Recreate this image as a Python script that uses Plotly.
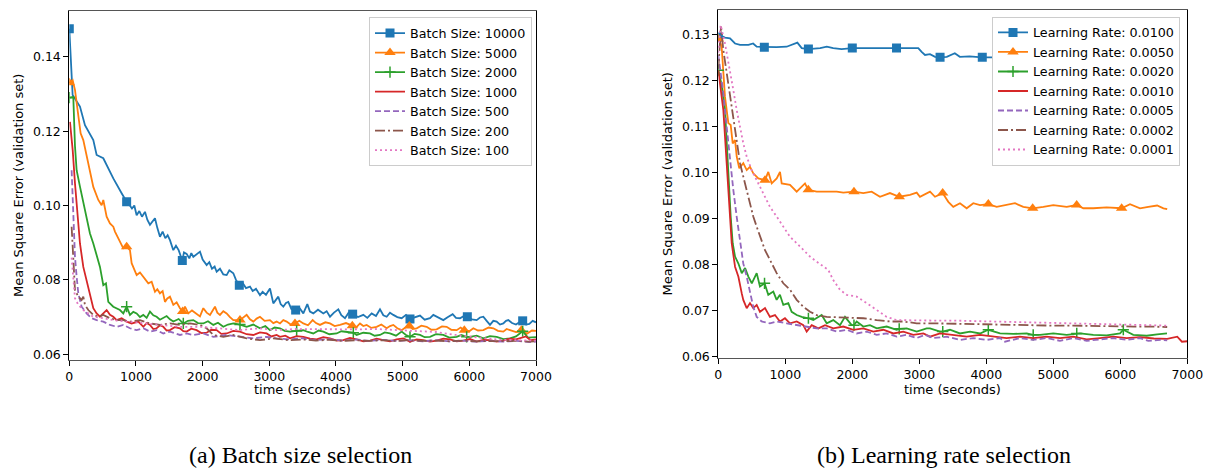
import plotly.graph_objects as go

W, H = 1207, 468

# ---------------- data: (a) batch size selection ----------------
bs_labels = ["Batch Size: 10000", "Batch Size: 5000", "Batch Size: 2000", "Batch Size: 1000",
             "Batch Size: 500", "Batch Size: 200", "Batch Size: 100"]

bs10000 = [(0, 0.1475), (50, 0.1297), (160, 0.1266), (235, 0.1216), (360, 0.1176), (410, 0.1136),
           (510, 0.1127), (610, 0.1090), (660, 0.1073), (785, 0.1033), (860, 0.1010), (900, 0.1002),
           (940, 0.0992), (975, 0.1000), (1010, 0.0974), (1050, 0.0985), (1090, 0.0970), (1135, 0.0983),
           (1170, 0.0962), (1210, 0.0948), (1250, 0.0958), (1285, 0.0966), (1320, 0.0940), (1360, 0.0916),
           (1400, 0.0930), (1440, 0.0912), (1475, 0.0920), (1510, 0.0907), (1560, 0.0880), (1600, 0.0892),
           (1640, 0.0880), (1695, 0.0852), (1720, 0.0874), (1760, 0.0870), (1800, 0.0858), (1830, 0.0872),
           (1860, 0.0862), (1900, 0.0868), (1960, 0.0876), (2000, 0.0855), (2060, 0.0840), (2100, 0.0848),
           (2140, 0.0830), (2180, 0.0836), (2210, 0.0822), (2260, 0.0830), (2310, 0.0815), (2360, 0.0813),
           (2400, 0.0826), (2460, 0.0818), (2500, 0.0800), (2550, 0.0786), (2600, 0.0792), (2650, 0.0778),
           (2710, 0.0782), (2750, 0.0770), (2800, 0.0776), (2860, 0.0759), (2900, 0.0768), (2950, 0.0760),
           (3010, 0.0777), (3060, 0.0737), (3100, 0.0748), (3135, 0.0755), (3170, 0.0735), (3210, 0.0728),
           (3250, 0.0738), (3285, 0.0741), (3330, 0.0722), (3395, 0.0719), (3450, 0.0725), (3510, 0.0710),
           (3570, 0.0735), (3610, 0.0715), (3660, 0.0710), (3730, 0.0720), (3810, 0.0710), (3860, 0.0716),
           (3910, 0.0701), (3970, 0.0712), (4035, 0.0721), (4080, 0.0705), (4135, 0.0697), (4190, 0.0712),
           (4250, 0.0708), (4330, 0.0700), (4410, 0.0706), (4470, 0.0698), (4535, 0.0710), (4600, 0.0703),
           (4660, 0.0721), (4710, 0.0705), (4760, 0.0701), (4810, 0.0712), (4860, 0.0706), (4920, 0.0700),
           (4985, 0.0697), (5050, 0.0706), (5110, 0.0695), (5180, 0.0700), (5260, 0.0704), (5330, 0.0693),
           (5410, 0.0697), (5460, 0.0706), (5510, 0.0701), (5560, 0.0695), (5610, 0.0692), (5680, 0.0700),
           (5750, 0.0708), (5800, 0.0698), (5860, 0.0697), (5920, 0.0703), (5970, 0.0701), (6040, 0.0694),
           (6110, 0.0692), (6160, 0.0699), (6210, 0.0701), (6260, 0.0690), (6310, 0.0679), (6360, 0.0690),
           (6410, 0.0688), (6460, 0.0680), (6510, 0.0683), (6550, 0.0690), (6585, 0.0692), (6640, 0.0684),
           (6700, 0.0680), (6750, 0.0686), (6800, 0.0690), (6850, 0.0680), (6900, 0.0682), (6950, 0.0690),
           (7000, 0.0686)]
bs10000_marks = [(0, 0.1475), (860, 0.1010), (1695, 0.0852), (2550, 0.0786), (3395, 0.0719),
                 (4250, 0.0708), (5110, 0.0695), (5970, 0.0701), (6800, 0.0690)]

bs5000 = [(0, 0.1330), (50, 0.1337), (85, 0.1311), (135, 0.1243), (170, 0.1194), (210, 0.1176),
          (260, 0.1136), (310, 0.1087), (360, 0.1050), (435, 0.1015), (485, 0.1001), (510, 0.1015),
          (560, 0.0970), (610, 0.0952), (660, 0.0943), (685, 0.0930), (760, 0.0903), (810, 0.0885),
          (860, 0.0889), (910, 0.0880), (935, 0.0845), (970, 0.0830), (1010, 0.0813), (1060, 0.0820),
          (1110, 0.0809), (1150, 0.0798), (1185, 0.0791), (1235, 0.0795), (1285, 0.0768), (1320, 0.0775),
          (1360, 0.0764), (1400, 0.0770), (1435, 0.0741), (1470, 0.0750), (1510, 0.0755), (1560, 0.0733),
          (1610, 0.0740), (1660, 0.0724), (1700, 0.0715), (1735, 0.0728), (1785, 0.0710), (1840, 0.0718),
          (1910, 0.0710), (1960, 0.0702), (2010, 0.0724), (2060, 0.0712), (2110, 0.0706), (2185, 0.0728),
          (2220, 0.0712), (2260, 0.0706), (2310, 0.0716), (2360, 0.0710), (2410, 0.0700), (2460, 0.0692),
          (2560, 0.0692), (2610, 0.0700), (2660, 0.0706), (2710, 0.0694), (2760, 0.0688), (2810, 0.0696),
          (2860, 0.0701), (2930, 0.0690), (3010, 0.0692), (3060, 0.0684), (3110, 0.0688), (3160, 0.0683),
          (3210, 0.0692), (3260, 0.0688), (3320, 0.0680), (3385, 0.0683), (3450, 0.0690), (3510, 0.0683),
          (3580, 0.0678), (3650, 0.0692), (3700, 0.0684), (3760, 0.0679), (3840, 0.0686), (3910, 0.0683),
          (3980, 0.0676), (4060, 0.0679), (4150, 0.0684), (4245, 0.0677), (4300, 0.0672), (4360, 0.0683),
          (4410, 0.0676), (4460, 0.0679), (4530, 0.0671), (4610, 0.0674), (4680, 0.0680), (4760, 0.0670),
          (4810, 0.0676), (4860, 0.0679), (4920, 0.0670), (4985, 0.0665), (5040, 0.0672), (5100, 0.0676),
          (5150, 0.0668), (5210, 0.0670), (5280, 0.0677), (5360, 0.0674), (5430, 0.0666), (5510, 0.0667),
          (5590, 0.0675), (5660, 0.0674), (5730, 0.0666), (5810, 0.0665), (5870, 0.0672), (5925, 0.0665),
          (6000, 0.0662), (6060, 0.0670), (6130, 0.0664), (6210, 0.0665), (6290, 0.0672), (6360, 0.0670),
          (6430, 0.0663), (6510, 0.0661), (6560, 0.0668), (6610, 0.0665), (6700, 0.0660), (6780, 0.0665),
          (6860, 0.0655), (6940, 0.0664), (7000, 0.0663)]
bs5000_marks = [(0, 0.1330), (860, 0.0889), (1700, 0.0715), (2560, 0.0692), (3385, 0.0683),
                (4245, 0.0677), (5100, 0.0676), (5925, 0.0665), (6780, 0.0665)]

bs2000 = [(0, 0.1290), (60, 0.1292), (85, 0.1160), (110, 0.1095), (160, 0.1051), (210, 0.1010),
          (260, 0.0961), (310, 0.0925), (360, 0.0898), (410, 0.0867), (460, 0.0835), (510, 0.0786),
          (550, 0.0791), (585, 0.0741), (660, 0.0728), (760, 0.0719), (810, 0.0710), (860, 0.0728),
          (910, 0.0706), (960, 0.0714), (1010, 0.0710), (1060, 0.0700), (1110, 0.0706), (1160, 0.0698),
          (1210, 0.0715), (1260, 0.0705), (1310, 0.0701), (1360, 0.0693), (1410, 0.0697), (1460, 0.0703),
          (1510, 0.0694), (1560, 0.0688), (1640, 0.0695), (1710, 0.0683), (1780, 0.0690), (1860, 0.0692),
          (1930, 0.0684), (2010, 0.0683), (2080, 0.0689), (2160, 0.0679), (2230, 0.0685), (2310, 0.0674),
          (2380, 0.0680), (2460, 0.0683), (2560, 0.0680), (2660, 0.0674), (2760, 0.0680), (2860, 0.0670),
          (2940, 0.0676), (3010, 0.0665), (3080, 0.0672), (3160, 0.0670), (3230, 0.0663), (3310, 0.0661),
          (3410, 0.0663), (3510, 0.0665), (3580, 0.0660), (3660, 0.0656), (3740, 0.0664), (3810, 0.0661),
          (3900, 0.0654), (4010, 0.0656), (4080, 0.0662), (4160, 0.0661), (4260, 0.0658), (4310, 0.0652),
          (4410, 0.0658), (4510, 0.0656), (4580, 0.0650), (4660, 0.0652), (4730, 0.0659), (4810, 0.0656),
          (4900, 0.0650), (4985, 0.0661), (5050, 0.0652), (5110, 0.0647), (5180, 0.0655), (5260, 0.0652),
          (5330, 0.0646), (5410, 0.0647), (5500, 0.0654), (5610, 0.0652), (5700, 0.0645), (5810, 0.0647),
          (5880, 0.0652), (5960, 0.0647), (6010, 0.0647), (6110, 0.0650), (6210, 0.0643), (6310, 0.0649),
          (6410, 0.0647), (6510, 0.0641), (6610, 0.0643), (6700, 0.0648), (6800, 0.0662), (6880, 0.0645),
          (7000, 0.0646)]
bs2000_marks = [(0, 0.1290), (860, 0.0728), (1710, 0.0683), (2560, 0.0680), (3410, 0.0663),
                (4260, 0.0658), (5110, 0.0647), (5960, 0.0647), (6800, 0.0662)]

bs1000 = [(10, 0.1225), (51, 0.1149), (85, 0.1060), (110, 0.0997), (135, 0.0956), (160, 0.0898),
          (210, 0.0835), (260, 0.0795), (310, 0.0755), (360, 0.0724), (410, 0.0710), (460, 0.0701),
          (510, 0.0710), (560, 0.0719), (610, 0.0706), (660, 0.0701), (710, 0.0692), (785, 0.0697),
          (860, 0.0688), (935, 0.0683), (1035, 0.0688), (1110, 0.0674), (1160, 0.0684), (1210, 0.0679),
          (1260, 0.0668), (1310, 0.0670), (1360, 0.0678), (1410, 0.0674), (1460, 0.0664), (1510, 0.0665),
          (1580, 0.0673), (1660, 0.0670), (1710, 0.0662), (1760, 0.0661), (1830, 0.0669), (1910, 0.0665),
          (1980, 0.0657), (2060, 0.0658), (2130, 0.0666), (2210, 0.0665), (2280, 0.0655), (2360, 0.0656),
          (2460, 0.0663), (2560, 0.0661), (2660, 0.0654), (2760, 0.0652), (2860, 0.0659), (2960, 0.0656),
          (3030, 0.0648), (3110, 0.0652), (3160, 0.0647), (3240, 0.0650), (3310, 0.0643), (3410, 0.0649),
          (3510, 0.0647), (3610, 0.0642), (3710, 0.0640), (3810, 0.0646), (3910, 0.0643), (4010, 0.0637),
          (4110, 0.0638), (4210, 0.0644), (4310, 0.0640), (4410, 0.0635), (4510, 0.0637), (4610, 0.0642),
          (4710, 0.0638), (4810, 0.0635), (4910, 0.0640), (5010, 0.0643), (5110, 0.0634), (5210, 0.0640),
          (5310, 0.0638), (5410, 0.0634), (5510, 0.0637), (5610, 0.0642), (5710, 0.0640), (5810, 0.0635),
          (5910, 0.0637), (6010, 0.0641), (6110, 0.0634), (6210, 0.0639), (6310, 0.0638), (6410, 0.0634),
          (6510, 0.0637), (6600, 0.0642), (6700, 0.0640), (6850, 0.0648), (6920, 0.0638), (7000, 0.0640)]

bs500 = [(35, 0.1095), (51, 0.1015), (70, 0.0925), (85, 0.0862), (110, 0.0809), (135, 0.0764),
         (185, 0.0728), (260, 0.0710), (335, 0.0697), (410, 0.0692), (510, 0.0688), (610, 0.0679),
         (710, 0.0674), (810, 0.0679), (910, 0.0670), (1010, 0.0665), (1110, 0.0670), (1210, 0.0661),
         (1310, 0.0665), (1410, 0.0656), (1510, 0.0661), (1660, 0.0652), (1760, 0.0656), (1860, 0.0652),
         (2010, 0.0656), (2160, 0.0647), (2360, 0.0652), (2560, 0.0647), (2760, 0.0643), (2960, 0.0647),
         (3110, 0.0643), (3300, 0.0640), (3500, 0.0643), (3700, 0.0638), (3900, 0.0641), (4100, 0.0637),
         (4300, 0.0640), (4500, 0.0636), (4700, 0.0639), (4900, 0.0636), (5100, 0.0638), (5300, 0.0635),
         (5500, 0.0638), (5700, 0.0635), (5900, 0.0637), (6100, 0.0634), (6300, 0.0636), (6500, 0.0634),
         (6700, 0.0636), (6900, 0.0633), (7000, 0.0634)]

bs200 = [(35, 0.0943), (51, 0.0889), (70, 0.0818), (85, 0.0773), (135, 0.0755), (185, 0.0746),
         (210, 0.0755), (235, 0.0733), (285, 0.0719), (360, 0.0706), (435, 0.0701), (510, 0.0706),
         (610, 0.0697), (710, 0.0692), (810, 0.0692), (910, 0.0688), (1060, 0.0692), (1210, 0.0683),
         (1360, 0.0679), (1510, 0.0683), (1660, 0.0679), (1810, 0.0683), (1960, 0.0679), (2060, 0.0670),
         (2160, 0.0652), (2310, 0.0647), (2460, 0.0652), (2660, 0.0643), (2860, 0.0638), (3060, 0.0643),
         (3300, 0.0638), (3500, 0.0640), (3700, 0.0637), (3900, 0.0639), (4100, 0.0636), (4300, 0.0638),
         (4500, 0.0636), (4700, 0.0638), (4900, 0.0636), (5100, 0.0638), (5300, 0.0636), (5500, 0.0637),
         (5700, 0.0635), (5900, 0.0637), (6100, 0.0635), (6300, 0.0636), (6500, 0.0635), (6700, 0.0636),
         (6900, 0.0634), (7000, 0.0635)]

bs100 = [(35, 0.0860), (60, 0.0791), (85, 0.0751), (135, 0.0733), (210, 0.0719), (285, 0.0710),
         (360, 0.0701), (510, 0.0697), (660, 0.0692), (860, 0.0688), (1110, 0.0683), (1360, 0.0679),
         (1660, 0.0674), (1960, 0.0674), (2260, 0.0670), (2560, 0.0665), (2860, 0.0670), (3110, 0.0665),
         (3400, 0.0668), (3700, 0.0667), (4000, 0.0668), (4300, 0.0667), (4600, 0.0668), (4900, 0.0666),
         (5200, 0.0664), (5500, 0.0660), (5800, 0.0652), (6100, 0.0645), (6400, 0.0640), (6700, 0.0638),
         (7000, 0.0637)]

# ---------------- data: (b) learning rate selection ----------------
lr_labels = ["Learning Rate: 0.0100", "Learning Rate: 0.0050", "Learning Rate: 0.0020",
             "Learning Rate: 0.0010", "Learning Rate: 0.0005", "Learning Rate: 0.0002",
             "Learning Rate: 0.0001"]

lr0100 = [(0, 0.1294), (25, 0.1298), (100, 0.1293), (175, 0.1291), (250, 0.1280), (325, 0.1277),
          (450, 0.1277), (520, 0.1280), (573, 0.1273), (687, 0.1272), (870, 0.1272), (1020, 0.1273),
          (1180, 0.1282), (1245, 0.1270), (1345, 0.1268), (1520, 0.1270), (1620, 0.1273), (1715, 0.1270),
          (1840, 0.1268), (2000, 0.1270), (2265, 0.1270), (2460, 0.1270), (2660, 0.1270), (2860, 0.1271),
          (2985, 0.1270), (3035, 0.1262), (3085, 0.1255), (3160, 0.1257), (3235, 0.1251), (3310, 0.1250),
          (3410, 0.1251), (3530, 0.1259), (3605, 0.1251), (3750, 0.1252), (3940, 0.1250), (4200, 0.1250),
          (4600, 0.1249), (5000, 0.1249), (5300, 0.1248), (5950, 0.1248), (6600, 0.1247), (6700, 0.1247)]
lr0100_marks = [(0, 0.1294), (687, 0.1272), (1345, 0.1268), (2000, 0.1270), (2660, 0.1270),
                (3310, 0.1250), (3940, 0.1250), (4600, 0.1249), (5300, 0.1248), (5950, 0.1248),
                (6600, 0.1247)]

lr0050 = [(0, 0.1290), (25, 0.1284), (50, 0.1273), (75, 0.1208), (100, 0.1164), (150, 0.1107),
          (185, 0.1103), (215, 0.1063), (250, 0.1070), (275, 0.1034), (313, 0.1009), (373, 0.1020),
          (424, 0.1005), (473, 0.1012), (522, 0.0998), (597, 0.0987), (697, 0.0983), (746, 0.1001),
          (797, 0.0976), (872, 0.0987), (921, 0.1001), (946, 0.0976), (1070, 0.0973), (1170, 0.0958),
          (1294, 0.0976), (1343, 0.0962), (1469, 0.0958), (1618, 0.0958), (1767, 0.0958), (1866, 0.0956),
          (2025, 0.0958), (2164, 0.0955), (2289, 0.0958), (2413, 0.0947), (2562, 0.0955), (2701, 0.0947),
          (2861, 0.0951), (2961, 0.0956), (3010, 0.0947), (3160, 0.0958), (3234, 0.0947), (3349, 0.0955),
          (3433, 0.0936), (3507, 0.0925), (3607, 0.0933), (3707, 0.0922), (3806, 0.0933), (3906, 0.0929),
          (4030, 0.0931), (4155, 0.0925), (4304, 0.0929), (4428, 0.0933), (4552, 0.0925), (4692, 0.0922),
          (4851, 0.0925), (5000, 0.0929), (5200, 0.0925), (5349, 0.0929), (5448, 0.0922), (5597, 0.0922),
          (5796, 0.0924), (6020, 0.0922), (6145, 0.0931), (6294, 0.0922), (6418, 0.0925), (6550, 0.0928),
          (6644, 0.0922), (6700, 0.0920)]
lr0050_marks = [(0, 0.1290), (697, 0.0983), (1343, 0.0962), (2025, 0.0958), (2701, 0.0947),
                (3349, 0.0955), (4030, 0.0931), (4692, 0.0922), (5349, 0.0929), (6020, 0.0922)]

lr0020 = [(0, 0.1222), (50, 0.1190), (100, 0.1136), (150, 0.0991), (185, 0.0904), (215, 0.0846),
          (250, 0.0817), (300, 0.0802), (350, 0.0781), (400, 0.0792), (450, 0.0773), (500, 0.0759),
          (573, 0.0781), (622, 0.0752), (690, 0.0759), (746, 0.0734), (821, 0.0741), (871, 0.0723),
          (920, 0.0734), (970, 0.0712), (1045, 0.0716), (1095, 0.0697), (1170, 0.0690), (1245, 0.0686),
          (1345, 0.0683), (1418, 0.0679), (1543, 0.0690), (1618, 0.0672), (1716, 0.0679), (1816, 0.0668),
          (1891, 0.0686), (1991, 0.0668), (2025, 0.0668), (2065, 0.0676), (2164, 0.0665), (2264, 0.0668),
          (2364, 0.0661), (2513, 0.0665), (2662, 0.0658), (2700, 0.0660), (2812, 0.0661), (2961, 0.0654),
          (3110, 0.0661), (3160, 0.0661), (3309, 0.0654), (3350, 0.0654), (3458, 0.0658), (3607, 0.0650),
          (3757, 0.0654), (3906, 0.0650), (4030, 0.0658), (4205, 0.0650), (4403, 0.0649), (4603, 0.0650),
          (4700, 0.0647), (4801, 0.0647), (5000, 0.0650), (5200, 0.0647), (5350, 0.0650), (5400, 0.0650),
          (5597, 0.0647), (5796, 0.0646), (5996, 0.0650), (6045, 0.0658), (6194, 0.0647), (6394, 0.0645),
          (6550, 0.0648), (6697, 0.0650)]
lr0020_marks = [(0, 0.1222), (690, 0.0759), (1345, 0.0683), (2025, 0.0668), (2700, 0.0660),
                (3350, 0.0654), (4030, 0.0658), (4700, 0.0647), (5350, 0.0650), (6045, 0.0658)]

lr0010 = [(0, 0.1222), (75, 0.1136), (125, 0.1020), (165, 0.0918), (200, 0.0846), (250, 0.0795),
          (300, 0.0773), (350, 0.0737), (373, 0.0723), (424, 0.0705), (473, 0.0716), (522, 0.0705),
          (573, 0.0712), (622, 0.0697), (697, 0.0705), (771, 0.0686), (846, 0.0690), (920, 0.0676),
          (995, 0.0683), (1070, 0.0672), (1170, 0.0676), (1269, 0.0668), (1319, 0.0654), (1394, 0.0668),
          (1493, 0.0661), (1593, 0.0668), (1716, 0.0661), (1866, 0.0665), (2015, 0.0658), (2164, 0.0661),
          (2314, 0.0654), (2463, 0.0658), (2612, 0.0650), (2762, 0.0654), (2910, 0.0647), (3060, 0.0650),
          (3160, 0.0643), (3309, 0.0650), (3507, 0.0647), (3707, 0.0643), (3906, 0.0647), (4105, 0.0643),
          (4304, 0.0640), (4502, 0.0643), (4701, 0.0640), (4900, 0.0643), (5100, 0.0640), (5299, 0.0643),
          (5498, 0.0637), (5697, 0.0640), (5896, 0.0643), (6095, 0.0640), (6294, 0.0642), (6500, 0.0639),
          (6700, 0.0638), (6850, 0.0643), (6920, 0.0632), (7000, 0.0633)]

lr0005 = [(0, 0.1255), (75, 0.1172), (125, 0.1099), (175, 0.1027), (224, 0.0962), (274, 0.0904),
          (324, 0.0846), (373, 0.0802), (424, 0.0773), (473, 0.0737), (522, 0.0708), (573, 0.0686),
          (647, 0.0676), (771, 0.0672), (871, 0.0676), (1020, 0.0672), (1170, 0.0668), (1319, 0.0665),
          (1468, 0.0661), (1618, 0.0661), (1767, 0.0654), (1916, 0.0658), (2065, 0.0650), (2214, 0.0654),
          (2364, 0.0647), (2513, 0.0650), (2662, 0.0643), (2812, 0.0647), (2961, 0.0640), (3085, 0.0647),
          (3209, 0.0640), (3408, 0.0643), (3607, 0.0636), (3806, 0.0640), (4005, 0.0636), (4205, 0.0640),
          (4279, 0.0632), (4502, 0.0640), (4701, 0.0636), (4900, 0.0640), (5100, 0.0634), (5299, 0.0640),
          (5498, 0.0634), (5697, 0.0637), (5896, 0.0640), (6095, 0.0636), (6294, 0.0640), (6418, 0.0634),
          (6600, 0.0636), (6700, 0.0635)]

lr0002 = [(0, 0.1225), (40, 0.1317), (75, 0.1266), (125, 0.1215), (175, 0.1172), (224, 0.1121),
          (274, 0.1063), (324, 0.1020), (373, 0.0991), (424, 0.0962), (473, 0.0933), (522, 0.0904),
          (573, 0.0882), (622, 0.0860), (697, 0.0831), (771, 0.0810), (871, 0.0781), (970, 0.0759),
          (1070, 0.0745), (1170, 0.0723), (1269, 0.0708), (1369, 0.0697), (1468, 0.0690), (1618, 0.0686),
          (1767, 0.0685), (1966, 0.0683), (2165, 0.0683), (2364, 0.0679), (2562, 0.0676), (2761, 0.0676),
          (2961, 0.0672), (3200, 0.0672), (3500, 0.0671), (3800, 0.0670), (4100, 0.0669), (4400, 0.0668),
          (4700, 0.0668), (5000, 0.0667), (5300, 0.0667), (5600, 0.0666), (5900, 0.0666), (6200, 0.0665),
          (6443, 0.0665), (6700, 0.0664)]

lr0001 = [(0, 0.1260), (35, 0.1320), (100, 0.1280), (175, 0.1222), (224, 0.1179), (274, 0.1136),
          (324, 0.1099), (373, 0.1063), (424, 0.1034), (498, 0.1005), (573, 0.0983), (672, 0.0955),
          (771, 0.0925), (871, 0.0904), (970, 0.0882), (1070, 0.0860), (1170, 0.0846), (1269, 0.0831),
          (1369, 0.0817), (1468, 0.0806), (1567, 0.0795), (1642, 0.0788), (1716, 0.0766), (1816, 0.0745),
          (1916, 0.0734), (2065, 0.0730), (2214, 0.0716), (2364, 0.0701), (2513, 0.0686), (2662, 0.0679),
          (2900, 0.0678), (3200, 0.0678), (3500, 0.0678), (3800, 0.0677), (4100, 0.0676), (4400, 0.0675),
          (4700, 0.0674), (5000, 0.0673), (5300, 0.0671), (5600, 0.0670), (5900, 0.0669), (6200, 0.0668),
          (6500, 0.0668), (6700, 0.0667)]

x_ticks = [0, 1000, 2000, 3000, 4000, 5000, 6000, 7000]
left_y_ticks = [0.06, 0.08, 0.10, 0.12, 0.14]
right_y_ticks = [0.06, 0.07, 0.08, 0.09, 0.10, 0.11, 0.12, 0.13]

# ---------------- styles ----------------
colors = ["#1f77b4", "#ff7f0e", "#2ca02c", "#d62728", "#9467bd", "#8c564b", "#e377c2"]
dashes = ["solid", "solid", "solid", "solid", "6px,3px", "10px,3px,2px,3px", "2px,3px"]
symbols = ["square", "triangle-up", "cross-thin", None, None, None, None]
msizes = [9, 10, 8, 0, 0, 0, 0]
LW = 1.8
FONT = "DejaVu Sans"

fig = go.Figure()


def add_panel(series, marks, labels, xa, ya, legend):
    for i, pts in enumerate(series):
        col = colors[i]
        fig.add_trace(go.Scatter(
            x=[p[0] for p in pts], y=[p[1] for p in pts], mode="lines",
            line=dict(color=col, width=LW, dash=dashes[i]),
            xaxis=xa, yaxis=ya, showlegend=False, hoverinfo="skip"))
        mk = marks[i]
        if mk:
            mline = dict(width=1.5, color=col) if symbols[i] == "cross-thin" else dict(width=0)
            fig.add_trace(go.Scatter(
                x=[p[0] for p in mk], y=[p[1] for p in mk], mode="markers",
                marker=dict(symbol=symbols[i], size=msizes[i], color=col, line=mline),
                xaxis=xa, yaxis=ya, showlegend=False, hoverinfo="skip"))
    # legend entries
    for i, lab in enumerate(labels):
        col = colors[i]
        if symbols[i]:
            mline = dict(width=1.5, color=col) if symbols[i] == "cross-thin" else dict(width=0)
            mode = "lines+markers"
            marker = dict(symbol=symbols[i], size=msizes[i], color=col, line=mline)
        else:
            mode = "lines"
            marker = None
        fig.add_trace(go.Scatter(
            x=[None], y=[None], mode=mode, name=lab,
            line=dict(color=col, width=LW, dash=dashes[i]),
            marker=marker, xaxis=xa, yaxis=ya, legend=legend, showlegend=True))


add_panel([bs10000, bs5000, bs2000, bs1000, bs500, bs200, bs100],
          [bs10000_marks, bs5000_marks, bs2000_marks, None, None, None, None],
          bs_labels, "x", "y", "legend")
add_panel([lr0100, lr0050, lr0020, lr0010, lr0005, lr0002, lr0001],
          [lr0100_marks, lr0050_marks, lr0020_marks, None, None, None, None],
          lr_labels, "x2", "y2", "legend2")


def px_x(p):
    return p / W


def px_y(p):
    return 1 - p / H


tickfont = dict(family=FONT, size=12.5, color="black")
common_x = dict(range=[0, 7000], tickvals=x_ticks, ticks="outside", ticklen=5, tickwidth=1,
                tickcolor="black", showline=True, linecolor="#555555", linewidth=1, mirror=True,
                showgrid=False, zeroline=False, tickfont=tickfont, automargin=False)
common_y = dict(ticks="outside", ticklen=5, tickwidth=1, tickcolor="black", showline=True,
                linecolor="black", linewidth=1, mirror=True, showgrid=False, zeroline=False,
                tickfont=tickfont, tickformat=".2f", automargin=False)

legend_style = dict(font=dict(family=FONT, size=12.7, color="black"), bgcolor="white",
                    bordercolor="#cccccc", borderwidth=1, xanchor="right", yanchor="top",
                    tracegroupgap=0)

fig.update_layout(
    template="none",
    width=W, height=H, margin=dict(l=0, r=0, t=0, b=0, pad=0),
    paper_bgcolor="white", plot_bgcolor="white",
    xaxis=dict(domain=[px_x(69.3), px_x(536)], anchor="y", **common_x),
    yaxis=dict(domain=[px_y(360), px_y(11)], anchor="x", range=[0.05847, 0.1523],
               tickvals=left_y_ticks, **common_y),
    xaxis2=dict(domain=[px_x(718.3), px_x(1187.3)], anchor="y2", **common_x),
    yaxis2=dict(domain=[px_y(358.3), px_y(10)], anchor="x2", range=[0.0596, 0.13528],
                tickvals=right_y_ticks, **common_y),
    legend=dict(x=px_x(532), y=px_y(17.3), **legend_style),
    legend2=dict(x=px_x(1180), y=px_y(16.7), **legend_style),
)

ann_font = dict(family=FONT, size=13, color="black")
cap_font = dict(family="Liberation Serif", size=24, color="black")
annotations = [
    dict(text="time (seconds)", x=px_x(302.7), y=px_y(389), font=ann_font),
    dict(text="time (seconds)", x=px_x(952.8), y=px_y(389), font=ann_font),
    dict(text="Mean Square Error (validation set)", x=px_x(18.5), y=px_y(185.5), textangle=-90,
         font=ann_font),
    dict(text="Mean Square Error (validation set)", x=px_x(667), y=px_y(184.5), textangle=-90,
         font=ann_font),
    dict(text="(a) Batch size selection", x=px_x(300), y=px_y(455), font=cap_font),
    dict(text="(b) Learning rate selection", x=px_x(944), y=px_y(455), font=cap_font),
]
for a in annotations:
    a.update(xref="paper", yref="paper", showarrow=False, xanchor="center", yanchor="middle")
fig.update_layout(annotations=annotations)

fig.write_html("out.html", config={"displayModeBar": False},
               post_script="document.body.style.margin='0px';")
